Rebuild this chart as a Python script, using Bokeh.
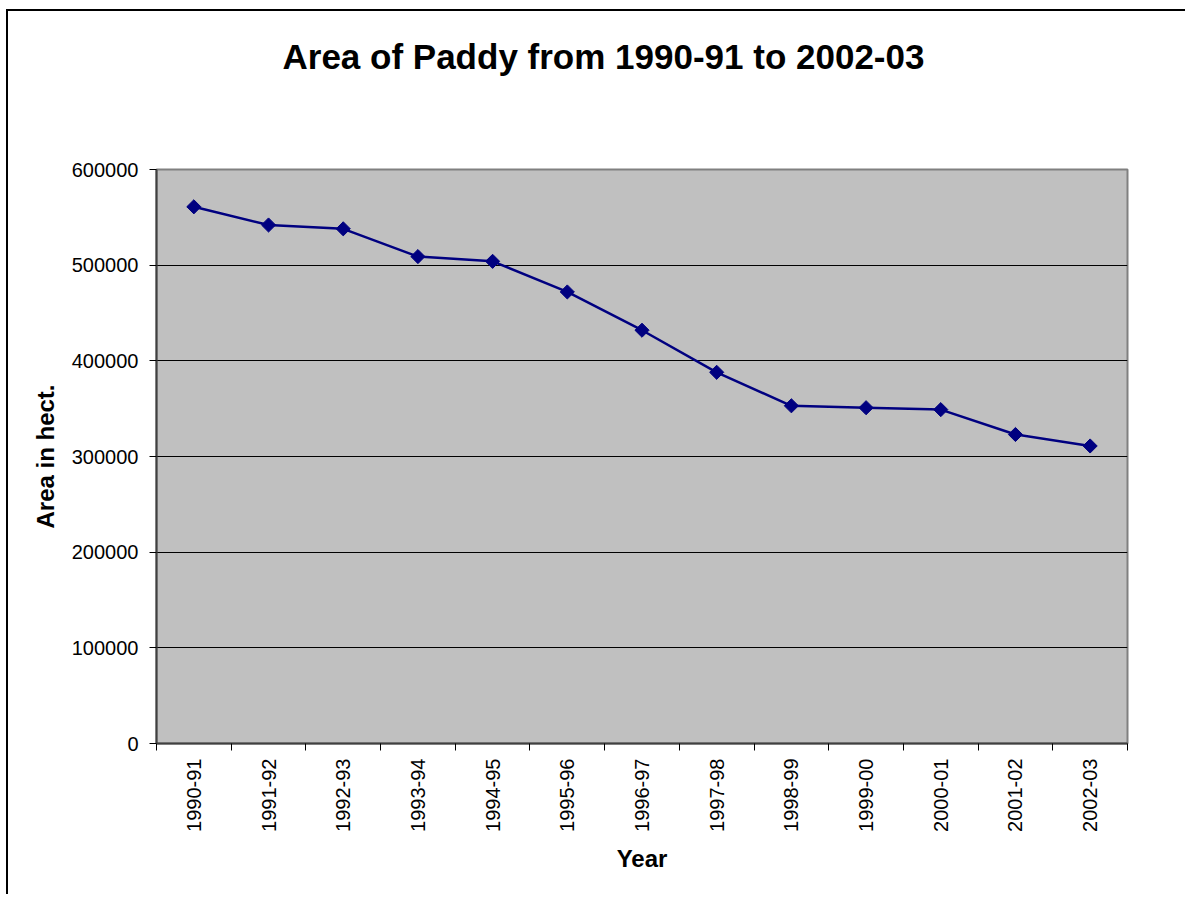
from math import pi
from bokeh.plotting import figure
from bokeh.models import Range1d, FixedTicker, BasicTickFormatter, Title
from bokeh.embed import file_html
from bokeh.resources import INLINE

years = ["1990-91", "1991-92", "1992-93", "1993-94", "1994-95", "1995-96", "1996-97",
         "1997-98", "1998-99", "1999-00", "2000-01", "2001-02", "2002-03"]
area = [561000, 542000, 538000, 509000, 504000, 472000, 432000,
        388000, 353000, 351000, 349000, 323000, 311000]
y_ticks = [0, 100000, 200000, 300000, 400000, 500000, 600000]
title_text = "Area of Paddy from 1990-91 to 2002-03"
x_title = "Year"
y_title = "Area in hect."

FONT = "Liberation Sans"

x_pos = [i + 0.5 for i in range(len(years))]
boundaries = list(range(len(years) + 1))

p = figure(width=1179, height=885, output_backend="svg", toolbar_location=None,
           x_range=Range1d(0, len(years)), y_range=Range1d(y_ticks[0], y_ticks[-1]),
           min_border_left=148, min_border_right=60, min_border_top=158,
           min_border_bottom=153, title=None)
p.styles = {"border-left": "2px solid black", "border-top": "2px solid black",
            "margin-left": "6px", "margin-top": "9px"}

# spacer between the frame and the title (closest to the frame)
p.add_layout(Title(text=" ", text_font_size="1px", standoff=77), "above")
# chart title (outermost)
p.add_layout(Title(text=title_text, align="left", offset=126, standoff=28,
                   vertical_align="bottom",
                   text_font=FONT, text_font_size="35px", text_font_style="bold",
                   text_color="black"), "above")

p.background_fill_color = "#C0C0C0"
p.border_fill_color = "white"
p.outline_line_color = "#808080"
p.outline_line_width = 2

# grid
p.xgrid.visible = False
p.ygrid.ticker = FixedTicker(ticks=y_ticks[1:-1])
p.ygrid.grid_line_color = "black"
p.ygrid.grid_line_width = 1

# x axis
xa = p.xaxis[0]
xa.ticker = FixedTicker(ticks=x_pos, minor_ticks=boundaries)
xa.major_label_overrides = {x: lbl for x, lbl in zip(x_pos, years)}
xa.major_tick_out = 0
xa.major_tick_in = 0
xa.minor_tick_out = 7
xa.minor_tick_in = 0
xa.minor_tick_line_color = "black"
xa.minor_tick_line_width = 1
xa.major_label_orientation = pi / 2
xa.major_label_standoff = 8
xa.major_label_text_font = FONT
xa.major_label_text_font_size = "20px"
xa.major_label_text_color = "black"
xa.axis_line_color = "#404040"
xa.axis_line_width = 2
xa.axis_label = x_title
xa.axis_label_text_font = FONT
xa.axis_label_text_font_size = "24px"
xa.axis_label_text_font_style = "bold"
xa.axis_label_text_color = "black"
xa.axis_label_standoff = 10

# y axis
ya = p.yaxis[0]
ya.ticker = FixedTicker(ticks=y_ticks)
ya.formatter = BasicTickFormatter(use_scientific=False)
ya.major_tick_out = 7
ya.major_tick_in = 0
ya.major_tick_line_color = "black"
ya.minor_tick_line_color = None
ya.major_label_standoff = 11
ya.major_label_text_font = FONT
ya.major_label_text_font_size = "20px"
ya.major_label_text_color = "black"
ya.axis_line_color = "#404040"
ya.axis_line_width = 2
ya.axis_label = y_title
ya.axis_label_text_font = FONT
ya.axis_label_text_font_size = "24px"
ya.axis_label_text_font_style = "bold"
ya.axis_label_text_color = "black"
ya.axis_label_standoff = 10

# data
p.line(x_pos, area, line_color="#000080", line_width=2.5)
p.scatter(x_pos, area, marker="square", angle=pi / 4, size=10,
          fill_color="#000080", line_color="#000080")

open("out.html", "w").write(file_html(p, INLINE))
